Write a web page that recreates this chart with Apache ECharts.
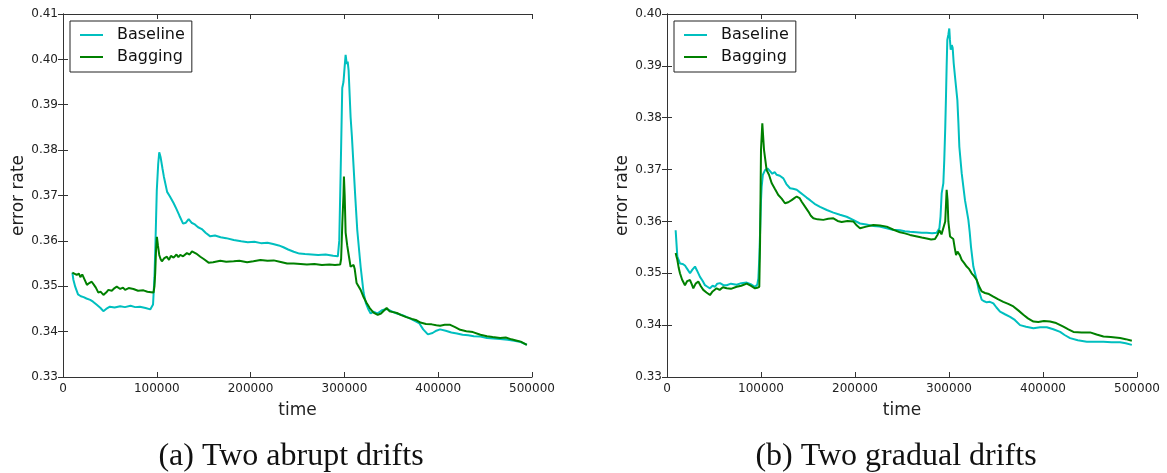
<!DOCTYPE html>
<html>
<head>
<meta charset="utf-8">
<script src="https://cdn.jsdelivr.net/npm/echarts@6/dist/echarts.min.js"></script>
<style>
  html, body { margin: 0; padding: 0; background: #fff; }
  #main { width: 1167px; height: 473px; }
</style>
</head>
<body>
<div id="main"></div>
<script>
// values, [time, error rate]
var abruptBaseline = [[10000,0.3530],[11000,0.3515],[13000,0.3499],[16000,0.3482],[19000,0.3478],[22000,0.3476],[25000,0.3473],[29000,0.3470],[32000,0.3466],[36000,0.3459],[40000,0.3452],[43000,0.3445],[46000,0.3450],[50000,0.3455],[55000,0.3453],[61000,0.3456],[66000,0.3454],[72000,0.3457],[77000,0.3454],[82000,0.3455],[88000,0.3452],[93000,0.3449],[96000,0.3460],[97500,0.3520],[98500,0.3590],[100000,0.3712],[101500,0.3770],[102600,0.3795],[104000,0.3785],[106000,0.3760],[107500,0.3742],[111000,0.3708],[114000,0.3698],[118000,0.3683],[121000,0.3670],[124000,0.3656],[128000,0.3638],[131000,0.3640],[134000,0.3648],[137000,0.3640],[140000,0.3637],[144000,0.3630],[148000,0.3626],[152000,0.3618],[157000,0.3610],[162000,0.3612],[168000,0.3608],[174000,0.3606],[182000,0.3602],[190000,0.3599],[197000,0.3597],[204000,0.3598],[211000,0.3595],[218000,0.3596],[224000,0.3593],[230000,0.3590],[235000,0.3586],[240000,0.3581],[246000,0.3576],[252000,0.3572],[258000,0.3571],[265000,0.3570],[272000,0.3569],[280000,0.3570],[288000,0.3567],[293000,0.3566],[294500,0.3600],[296000,0.3750],[297700,0.3937],[299000,0.3950],[300500,0.3990],[301300,0.4010],[302500,0.3990],[303500,0.3995],[304500,0.3975],[306600,0.3873],[308000,0.3830],[309800,0.3763],[311500,0.3700],[313700,0.3624],[317300,0.3543],[320500,0.3485],[323000,0.3462],[325800,0.3448],[328000,0.3440],[331000,0.3444],[335000,0.3440],[340000,0.3447],[345000,0.3450],[350000,0.3445],[356000,0.3440],[362000,0.3436],[368000,0.3431],[374000,0.3425],[380000,0.3418],[384000,0.3405],[389000,0.3394],[394000,0.3397],[398000,0.3402],[402000,0.3405],[408000,0.3402],[414000,0.3398],[420000,0.3396],[426000,0.3393],[432000,0.3392],[438000,0.3390],[445000,0.3389],[452000,0.3386],[459000,0.3385],[466000,0.3384],[474000,0.3382],[481000,0.3380],[488000,0.3377],[494500,0.3371]];

var abruptBagging = [[10000,0.3530],[12000,0.3527],[14600,0.3525],[17000,0.3528],[18500,0.3520],[20500,0.3526],[22000,0.3522],[24000,0.3510],[25500,0.3503],[28000,0.3507],[30600,0.3510],[33000,0.3503],[35000,0.3497],[37700,0.3486],[40000,0.3488],[43100,0.3481],[46000,0.3486],[48400,0.3492],[52000,0.3490],[55000,0.3496],[57300,0.3499],[61000,0.3494],[64000,0.3497],[66200,0.3492],[70000,0.3496],[75100,0.3494],[80000,0.3490],[85800,0.3491],[90000,0.3488],[94000,0.3487],[96500,0.3486],[97500,0.3500],[98300,0.3529],[99200,0.3580],[100100,0.3609],[101200,0.3590],[102600,0.3569],[104000,0.3560],[105400,0.3555],[108000,0.3562],[110800,0.3565],[113000,0.3558],[115000,0.3567],[117900,0.3563],[121000,0.3570],[123000,0.3564],[125000,0.3569],[128000,0.3566],[132100,0.3573],[135000,0.3570],[137500,0.3577],[139200,0.3576],[142000,0.3572],[146400,0.3565],[150000,0.3560],[155200,0.3552],[160000,0.3553],[167700,0.3556],[174000,0.3554],[181900,0.3555],[188000,0.3556],[196300,0.3553],[203000,0.3555],[210500,0.3558],[218000,0.3556],[224700,0.3557],[231000,0.3554],[239000,0.3550],[246000,0.3550],[253200,0.3549],[260000,0.3548],[268000,0.3549],[276000,0.3547],[284000,0.3548],[290000,0.3547],[295500,0.3548],[296500,0.3560],[297800,0.3640],[299000,0.3700],[299500,0.3742],[300300,0.3700],[301300,0.3618],[303000,0.3590],[304500,0.3570],[306600,0.3543],[308000,0.3540],[309800,0.3547],[311000,0.3538],[313000,0.3507],[317300,0.3492],[320000,0.3478],[323700,0.3463],[327000,0.3452],[331000,0.3442],[335500,0.3437],[339000,0.3440],[342000,0.3446],[345000,0.3452],[348000,0.3445],[352000,0.3443],[356000,0.3441],[360000,0.3437],[366000,0.3432],[372000,0.3428],[377000,0.3425],[381000,0.3420],[387000,0.3417],[393000,0.3416],[398000,0.3414],[402000,0.3413],[407000,0.3415],[412800,0.3415],[418000,0.3410],[423500,0.3404],[430000,0.3401],[437000,0.3399],[445000,0.3393],[452000,0.3390],[458000,0.3388],[466000,0.3386],[472000,0.3387],[478000,0.3383],[484000,0.3380],[488000,0.3378],[494500,0.3371]];

var gradualBaseline = [[9200,0.3583],[10000,0.3560],[11000,0.3532],[13800,0.3519],[16500,0.3518],[19100,0.3515],[22000,0.3507],[24500,0.3500],[27000,0.3507],[29800,0.3513],[32000,0.3505],[35100,0.3493],[38000,0.3485],[40400,0.3477],[43000,0.3474],[45700,0.3471],[48500,0.3476],[51100,0.3474],[53500,0.3480],[56400,0.3481],[60000,0.3477],[63500,0.3477],[68000,0.3480],[74100,0.3478],[79000,0.3481],[84800,0.3482],[89000,0.3479],[93600,0.3474],[96000,0.3478],[97200,0.3490],[98200,0.3530],[99000,0.3577],[100000,0.3640],[100700,0.3667],[102000,0.3690],[104300,0.3699],[107000,0.3702],[109600,0.3697],[112000,0.3692],[114500,0.3695],[116700,0.3690],[120000,0.3688],[123800,0.3683],[127000,0.3672],[130900,0.3664],[134000,0.3663],[138000,0.3661],[141500,0.3656],[145100,0.3651],[148500,0.3646],[152200,0.3641],[157000,0.3634],[162800,0.3628],[170000,0.3622],[177000,0.3617],[184000,0.3613],[191100,0.3609],[198000,0.3603],[205300,0.3596],[212000,0.3594],[219500,0.3591],[226000,0.3590],[233700,0.3587],[240000,0.3584],[247900,0.3583],[253000,0.3581],[258500,0.3580],[265000,0.3579],[271000,0.3578],[276300,0.3578],[282000,0.3577],[286900,0.3578],[289800,0.3587],[291000,0.3610],[292200,0.3654],[294000,0.3674],[295000,0.3720],[296000,0.3780],[296800,0.3841],[297500,0.3900],[298200,0.3950],[299300,0.3960],[300300,0.3972],[301000,0.3950],[301800,0.3931],[303000,0.3940],[303900,0.3935],[305000,0.3905],[306400,0.3879],[308900,0.3834],[310000,0.3790],[311000,0.3744],[313500,0.3693],[317000,0.3641],[320600,0.3603],[322000,0.3580],[323400,0.3551],[325900,0.3513],[329500,0.3487],[332000,0.3465],[334800,0.3449],[337500,0.3446],[340100,0.3444],[343500,0.3445],[347200,0.3442],[350500,0.3434],[354300,0.3426],[359500,0.3421],[365000,0.3416],[370000,0.3410],[375600,0.3400],[382000,0.3397],[389800,0.3394],[397000,0.3396],[404000,0.3396],[411000,0.3392],[418200,0.3387],[423000,0.3381],[428800,0.3375],[437000,0.3371],[446600,0.3368],[455000,0.3368],[464300,0.3368],[473000,0.3367],[482000,0.3367],[488000,0.3365],[494500,0.3362]];

var gradualBagging = [[9200,0.3539],[10000,0.3533],[11000,0.3526],[12500,0.3510],[13800,0.3500],[16000,0.3488],[19100,0.3477],[21500,0.3485],[24500,0.3487],[26500,0.3478],[28000,0.3471],[30500,0.3480],[33300,0.3484],[36000,0.3475],[38600,0.3468],[42000,0.3463],[45700,0.3458],[48500,0.3465],[52800,0.3471],[56000,0.3468],[59500,0.3473],[63500,0.3471],[68000,0.3470],[74100,0.3474],[79000,0.3476],[84800,0.3480],[89000,0.3476],[93600,0.3471],[96000,0.3472],[98200,0.3474],[99000,0.3560],[100000,0.3738],[101400,0.3789],[103200,0.3738],[106000,0.3699],[108500,0.3690],[111300,0.3674],[115000,0.3662],[118400,0.3651],[122000,0.3644],[125500,0.3635],[129000,0.3637],[132600,0.3641],[135500,0.3645],[138000,0.3648],[141000,0.3645],[143300,0.3638],[147000,0.3628],[150400,0.3619],[153000,0.3611],[155700,0.3606],[160000,0.3604],[166300,0.3603],[171500,0.3605],[177000,0.3606],[181500,0.3601],[185800,0.3599],[192000,0.3601],[198200,0.3600],[202000,0.3592],[205300,0.3587],[212000,0.3590],[219500,0.3593],[226500,0.3592],[233700,0.3590],[241000,0.3584],[247900,0.3579],[253000,0.3577],[258500,0.3574],[266000,0.3571],[271000,0.3569],[276300,0.3567],[281000,0.3565],[285100,0.3566],[288000,0.3575],[289800,0.3583],[292000,0.3575],[294000,0.3575],[296000,0.3600],[297500,0.3661],[298500,0.3640],[299300,0.3600],[301100,0.3571],[303000,0.3568],[304600,0.3566],[306000,0.3550],[307500,0.3535],[309000,0.3542],[310000,0.3545],[311500,0.3535],[313500,0.3526],[316000,0.3520],[318800,0.3513],[321500,0.3508],[324100,0.3500],[326500,0.3495],[329500,0.3487],[332000,0.3475],[334800,0.3465],[338300,0.3462],[342500,0.3460],[347200,0.3455],[352000,0.3450],[357800,0.3445],[363000,0.3441],[368500,0.3436],[374000,0.3428],[379100,0.3420],[384000,0.3413],[389800,0.3407],[395000,0.3406],[401000,0.3408],[407500,0.3407],[414000,0.3404],[421700,0.3397],[427000,0.3392],[432400,0.3387],[441000,0.3386],[450100,0.3386],[457000,0.3382],[464300,0.3378],[472000,0.3377],[482000,0.3375],[488000,0.3373],[494500,0.3370]];

var seriesNames = ['Baseline', 'Bagging'];
var captions = ['(a) Two abrupt drifts', '(b) Two gradual drifts'];
var yMax = [0.41, 0.40];

var myChart = echarts.init(document.getElementById('main'));

var frame = { show: true, lineStyle: { color: '#333', width: 1 } };
var tick = { show: true, inside: true, length: 5, lineStyle: { color: '#333' } };
var tickFont = { fontFamily: 'DejaVu Sans', fontSize: 12, color: '#222' };
var nameFont = { fontFamily: 'DejaVu Sans', fontSize: 17, color: '#222' };

function xAxes(g) {
    return [{
        type: 'value', gridIndex: g, position: 'bottom',
        min: 0, max: 500000, interval: 100000,
        name: 'time', nameLocation: 'middle', nameGap: 25, nameTextStyle: nameFont,
        axisLine: frame, axisTick: tick, splitLine: { show: false },
        axisLabel: Object.assign({ margin: 6, formatter: function (v) { return String(v); } }, tickFont)
    }, {
        type: 'value', gridIndex: g, position: 'top',
        min: 0, max: 500000, interval: 100000,
        axisLine: frame, axisTick: tick, splitLine: { show: false },
        axisLabel: { show: false }
    }];
}

function yAxes(g) {
    return [{
        type: 'value', gridIndex: g, position: 'left',
        min: 0.33, max: yMax[g], interval: 0.01,
        name: 'error rate', nameLocation: 'middle', nameRotate: 90, nameGap: 36, nameTextStyle: nameFont,
        axisLine: frame, axisTick: tick, splitLine: { show: false },
        axisLabel: Object.assign({ margin: 5, formatter: function (v) { return v.toFixed(2); } }, tickFont)
    }, {
        type: 'value', gridIndex: g, position: 'right',
        min: 0.33, max: yMax[g], interval: 0.01,
        axisLine: frame, axisTick: tick, splitLine: { show: false },
        axisLabel: { show: false }
    }];
}

function line(name, data, axis, color) {
    return {
        name: name, type: 'line', data: data,
        xAxisIndex: axis, yAxisIndex: axis,
        showSymbol: false, symbol: 'none',
        lineStyle: { color: color, width: 2 },
        itemStyle: { color: color }
    };
}

function legendAt(left) {
    return {
        data: seriesNames, orient: 'vertical', left: left, top: 21,
        icon: 'rect', itemWidth: 23, itemHeight: 2, itemGap: 6,
        padding: [6, 7, 7, 10],
        borderColor: '#222', borderWidth: 1, borderRadius: 0,
        textStyle: { fontFamily: 'DejaVu Sans', fontSize: 16, color: '#111', padding: [0, 0, 0, 9] }
    };
}

var option = {
    animation: false,
    backgroundColor: '#fff',
    title: [
        { text: captions[0], left: 286, top: 436, textAlign: 'center',
          textStyle: { fontFamily: 'Liberation Serif', fontSize: 32, fontWeight: 'normal', color: '#111' } },
        { text: captions[1], left: 891, top: 436, textAlign: 'center',
          textStyle: { fontFamily: 'Liberation Serif', fontSize: 32, fontWeight: 'normal', color: '#111' } }
    ],
    legend: [legendAt(70), legendAt(674)],
    grid: [
        { left: 63, top: 14, width: 469, height: 363 },
        { left: 667, top: 14, width: 470, height: 363 }
    ],
    xAxis: xAxes(0).concat(xAxes(1)),
    yAxis: yAxes(0).concat(yAxes(1)),
    series: [
        line('Baseline', abruptBaseline, 0, '#00bfbf'),
        line('Bagging', abruptBagging, 0, '#008000'),
        line('Baseline', gradualBaseline, 2, '#00bfbf'),
        line('Bagging', gradualBagging, 2, '#008000')
    ]
};

myChart.setOption(option);
</script>
</body>
</html>
